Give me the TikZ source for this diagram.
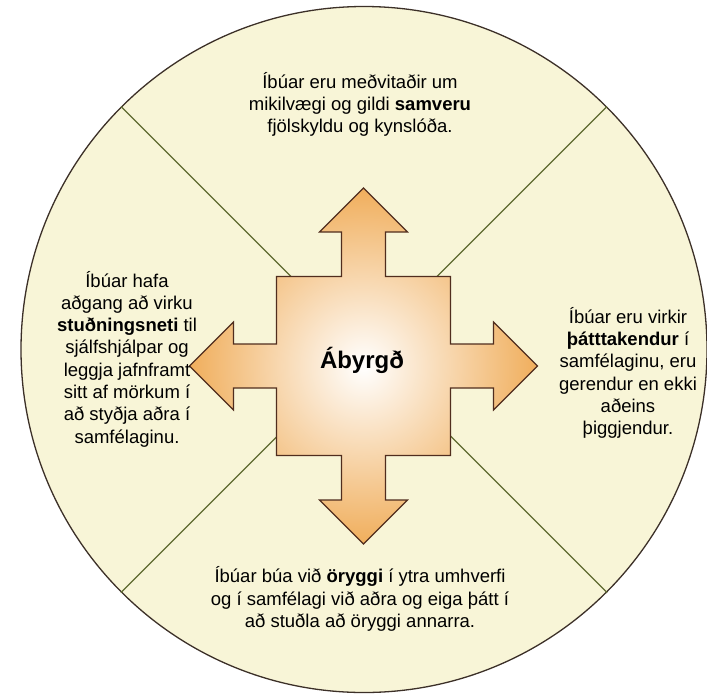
\documentclass[tikz,border=0pt]{standalone}
\usepackage{fontspec}
\setmainfont{Liberation Sans}
\definecolor{cream}{RGB}{248,245,215}
\definecolor{ringc}{RGB}{60,48,40}
\definecolor{divc}{RGB}{95,107,48}
\definecolor{arrowor}{RGB}{240,174,92}
\definecolor{arrowedge}{RGB}{80,45,30}
\begin{document}
\begin{tikzpicture}[x=1pt,y=-1pt,
  txt/.style={align=center, font=\fontsize{18.5}{22.3}\selectfont, inner sep=0pt, text=black},
  divider/.style={draw=divc, line width=1.1pt},
  ringstyle/.style={circle, draw=ringc, fill=cream, line width=1.3pt, minimum size=686pt, inner sep=0pt},
  arrowstyle/.style={draw=arrowedge, line width=1.2pt, inner color=white, outer color=arrowor, line join=miter},
  centerlabel/.style={font=\fontsize{24}{28}\selectfont\bfseries, inner sep=0pt}]
\useasboundingbox (0,0) rectangle (707,694);
\coordinate (c) at (364,349.5);
\node[ringstyle] (ring) at (c) {};
\draw[divider] (c) -- (ring.45);
\draw[divider] (c) -- (ring.135);
\draw[divider] (c) -- (ring.225);
\draw[divider] (c) -- (ring.315);
\path[arrowstyle, shift={(363.5,366)}]
  (-87,-89.5) -- (-22,-89.5) -- (-22,-134) -- (-44,-134) -- (0,-178) -- (44,-134) -- (22,-134) -- (22,-89.5)
  -- (87,-89.5) -- (87,-22) -- (130,-22) -- (130,-44) -- (174,0) -- (130,44) -- (130,22) -- (87,22)
  -- (87,89.5) -- (22,89.5) -- (22,134) -- (44,134) -- (0,178) -- (-44,134) -- (-22,134) -- (-22,89.5)
  -- (-87,89.5) -- (-87,22) -- (-130,22) -- (-130,44) -- (-174,0) -- (-130,-44) -- (-130,-22) -- (-87,-22) -- cycle;
\node[centerlabel] (center) at (362,360) {Ábyrgð};
\node[txt] (top) at (360,104.5) {Íbúar eru meðvitaðir um\\mikilvægi og gildi \textbf{samveru}\\fjölskyldu og kynslóða.};
\node[txt] (left) at (127,359) {Íbúar hafa\\aðgang að virku\\\textbf{stuðningsneti} til\\sjálfshjálpar og\\leggja jafnframt\\sitt af mörkum í\\að styðja aðra í\\samfélaginu.};
\node[txt] (right) at (628,373) {Íbúar eru virkir\\\textbf{þátttakendur} í\\samfélaginu, eru\\gerendur en ekki\\aðeins\\þiggjendur.};
\node[txt] (bottom) at (360,599) {Íbúar búa við \textbf{öryggi} í ytra umhverfi\\og í samfélagi við aðra og eiga þátt í\\að stuðla að öryggi annarra.};
\end{tikzpicture}
\end{document}
